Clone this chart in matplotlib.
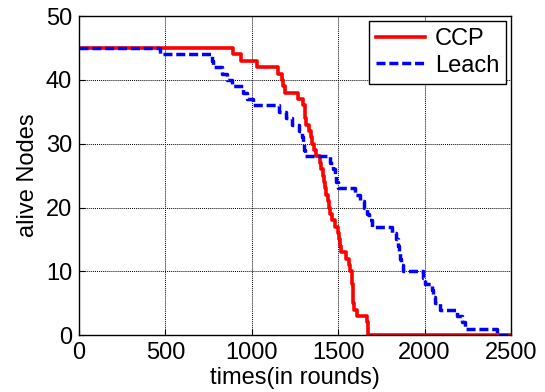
import matplotlib
matplotlib.use("Agg")
import matplotlib.pyplot as plt

# rounds at which the alive count changes, and the count from that round on
ccp_rounds = [0, 890, 940, 1028, 1153, 1172, 1180, 1192, 1269, 1298, 1305, 1310,
              1315, 1330, 1340, 1350, 1362, 1372, 1394, 1400, 1410, 1418, 1425,
              1432, 1440, 1448, 1455, 1465, 1480, 1500, 1505, 1510, 1515, 1545,
              1560, 1570, 1580, 1582, 1584, 1586, 1588, 1590, 1610, 1668, 1672,
              1675, 2500]
ccp_alive = [45, 44, 43, 42, 41, 40, 39, 38, 37, 36, 35, 34,
             33, 32, 31, 30, 29, 28, 27, 26, 25, 24, 23,
             22, 21, 20, 19, 18, 17, 16, 15, 14, 13, 12,
             11, 10, 9, 8, 7, 6, 5, 4, 3, 2, 1,
             0, 0]

leach_rounds = [0, 470, 770, 775, 825, 854, 883, 950, 975, 1008, 1160, 1200,
                1235, 1275, 1290, 1298, 1304, 1310, 1455, 1470, 1480, 1490, 1500,
                1600, 1625, 1650, 1665, 1680, 1694, 1810, 1835, 1845, 1852, 1858,
                1865, 1877, 1990, 2003, 2042, 2050, 2061, 2090, 2190, 2215, 2235,
                2418, 2500]
leach_alive = [45, 44, 43, 42, 41, 40, 39, 38, 37, 36, 35, 34,
               33, 32, 31, 30, 29, 28, 27, 26, 25, 24, 23,
               22, 21, 20, 19, 18, 17, 16, 15, 14, 13, 12,
               11, 10, 9, 8, 7, 6, 5, 4, 3, 2, 1,
               0, 0]

plt.rcParams['font.family'] = ['Liberation Sans', 'DejaVu Sans']
plt.rcParams['font.size'] = 17

fig = plt.figure(figsize=(5.45, 3.92), dpi=100)
ax = fig.add_axes([0.145, 0.145, 0.7926, 0.814])

ax.step(ccp_rounds, ccp_alive, where='post', color='#ff0000', lw=2.6, label='CCP')
ax.step(leach_rounds, leach_alive, where='post', color='#0000ff', lw=2.5,
        dashes=(2.6, 1.1), label='Leach')

ax.set_xlim(0, 2500)
ax.set_ylim(0, 50)
ax.set_xticks([0, 500, 1000, 1500, 2000, 2500])
ax.set_yticks([0, 10, 20, 30, 40, 50])
ax.grid(True, color='black', linewidth=0.7, dashes=(1, 1))
ax.tick_params(direction='in', length=4, width=0.8, pad=5)
for s in ax.spines.values():
    s.set_linewidth(1.0)

ax.set_xlabel('times(in rounds)', labelpad=2)
ax.set_ylabel('alive Nodes', labelpad=5)

leg = ax.legend(loc='upper right', fancybox=False, framealpha=1,
                edgecolor='black', handlelength=2.1, borderaxespad=0.2,
                borderpad=0.3, labelspacing=0.2, handletextpad=0.4)
leg.get_frame().set_linewidth(1.0)

fig.savefig('out.png', dpi=100)
